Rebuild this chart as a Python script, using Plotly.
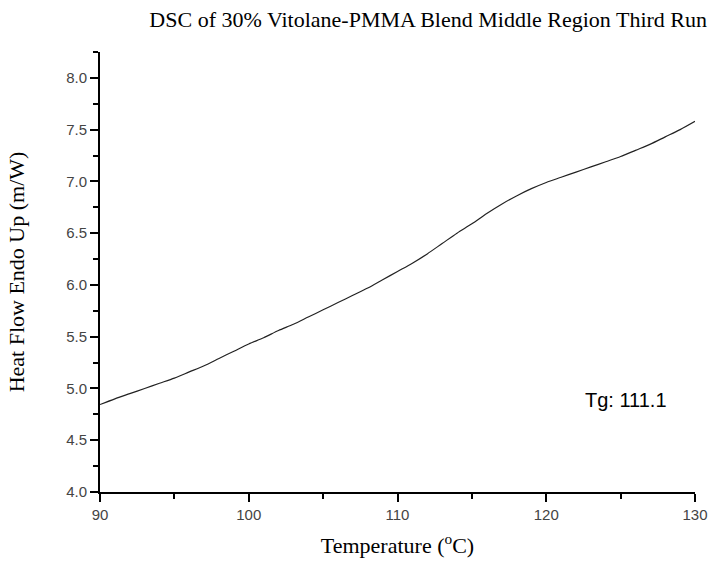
import plotly.graph_objects as go

# DSC trace, third heating run (temperature in °C, heat flow in m/W)
temperature = [90, 91, 92, 93, 94, 95, 96, 97, 98, 99, 100, 101, 102, 103, 104,
               105, 106, 107, 108, 109, 110, 111, 112, 113, 114, 115, 116, 117,
               118, 119, 120, 121, 122, 123, 124, 125, 126, 127, 128, 129, 130]
heat_flow = [4.845, 4.90, 4.95, 5.00, 5.05, 5.10, 5.16, 5.22, 5.29, 5.36, 5.43,
             5.49, 5.56, 5.62, 5.69, 5.76, 5.83, 5.90, 5.97, 6.05, 6.13, 6.21,
             6.30, 6.40, 6.50, 6.59, 6.69, 6.78, 6.86, 6.93, 6.99, 7.04, 7.09,
             7.14, 7.19, 7.24, 7.30, 7.36, 7.43, 7.50, 7.58]

tg_label = "Tg: 111.1"
x_ticks = [90, 100, 110, 120, 130]
y_ticks = [4.0, 4.5, 5.0, 5.5, 6.0, 6.5, 7.0, 7.5, 8.0]

serif = "Liberation Serif, Times New Roman, serif"
sans = "Liberation Sans, Arial, sans-serif"

fig = go.Figure()
fig.add_trace(go.Scatter(
    x=temperature, y=heat_flow, mode="lines",
    line=dict(color="#222222", width=1.2, shape="spline", smoothing=0.8),
    showlegend=False, hoverinfo="skip",
))

fig.add_annotation(
    x=125.33, y=4.885, xref="x", yref="y", text=tg_label, showarrow=False,
    font=dict(family=sans, size=20, color="#000000"),
)

axis_common = dict(
    showline=True, linecolor="#000000", linewidth=2,
    ticks="outside", tickcolor="#000000", tickwidth=2, ticklen=8,
    showgrid=False, zeroline=False, mirror=False, automargin=False,
    ticklabeloverflow="allow",
    tickfont=dict(family=sans, size=15, color="#444444"),
)

fig.update_xaxes(
    range=[90, 130], tickvals=x_ticks, ticktext=[str(v) for v in x_ticks],
    minor=dict(ticks="outside", ticklen=5, tickwidth=2, tickcolor="#000000", dtick=5, tick0=90),
    title=dict(text="Temperature (<sup>o</sup>C)", font=dict(family=serif, size=22, color="#000000"), standoff=16),
    **axis_common,
)
fig.update_yaxes(
    range=[4.0, 8.25], tickvals=y_ticks, ticktext=[f"{v:.1f}" for v in y_ticks],
    minor=dict(ticks="outside", ticklen=5, tickwidth=2, tickcolor="#000000", dtick=0.25, tick0=4.0),
    title=dict(text="Heat Flow Endo Up (m/W)", font=dict(family=serif, size=22, color="#000000"), standoff=35),
    **axis_common,
)

fig.update_layout(
    width=713, height=562,
    margin=dict(l=100, r=18, t=52, b=70, autoexpand=False),
    plot_bgcolor="#ffffff", paper_bgcolor="#ffffff",
    title=dict(
        text="DSC of 30% Vitolane-PMMA Blend Middle Region Third Run",
        font=dict(family=serif, size=22, color="#000000"),
        x=0.9916, xanchor="right", xref="container", y=0.965, yanchor="middle",
    ),
)

fig.write_html("out.html")
